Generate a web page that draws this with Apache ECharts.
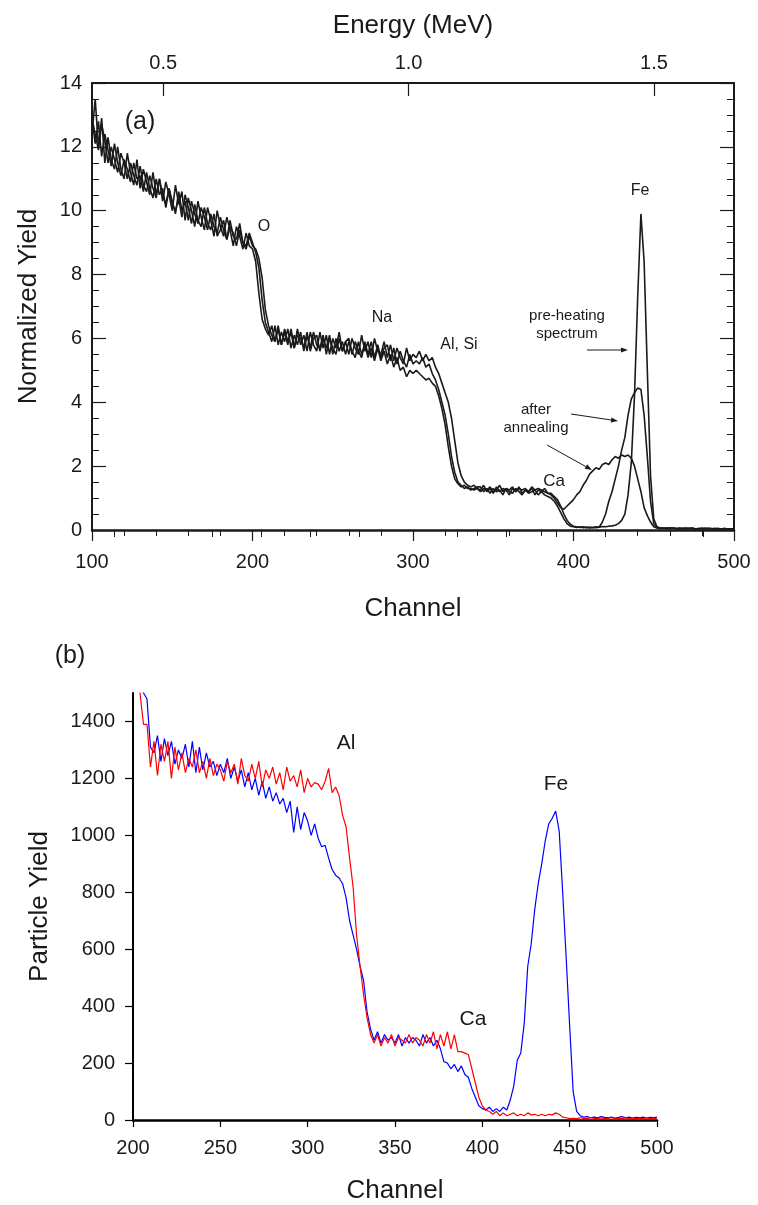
<!DOCTYPE html>
<html><head><meta charset="utf-8">
<script src="https://cdn.jsdelivr.net/npm/echarts@6/dist/echarts.min.js"></script>
<style>html,body{margin:0;padding:0;background:#fff}#c{width:758px;height:1205px}</style>
</head><body><div id="c"></div>
<script>
// ---------- Panel (a): normalized yield vs channel (channels 100..500, step 2) ----------
const TOP_CH_START = 100, TOP_CH_STEP = 2;
const preheat = [
 12.4,13.5,12.0,12.9,11.5,12.3,11.6,11.3,12.0,11.3,
 11.0,11.8,11.2,10.8,11.6,10.7,11.3,10.9,10.5,11.2,
 10.5,11.0,10.3,10.9,10.5,10.0,10.8,10.2,10.6,9.7,
 10.4,10.0,9.5,10.3,9.8,9.4,10.1,9.7,9.2,10.0,
 9.5,9.2,9.8,9.4,8.9,9.5,9.2,8.8,9.3,8.9,
 8.8,8.4,7.4,6.6,6.3,6.1,6.4,5.9,6.3,5.8,
 6.3,5.9,6.2,5.7,6.3,5.8,6.1,5.6,6.2,5.8,
 5.6,6.2,5.7,6.1,5.5,6.0,5.7,6.2,5.6,5.9,
 5.5,6.0,5.7,5.5,6.1,5.6,5.9,5.4,6.0,5.6,
 5.5,5.9,5.4,5.8,5.3,5.7,5.4,5.2,5.7,5.3,
 5.5,5.4,5.6,5.3,5.5,5.3,5.4,5.1,4.9,4.6,
 4.3,4.0,3.5,2.8,2.1,1.7,1.5,1.4,1.35,1.4,
 1.3,1.25,1.4,1.2,1.3,1.15,1.35,1.2,1.3,1.25,
 1.1,1.3,1.2,1.35,1.15,1.25,1.2,1.3,1.1,1.25,
 1.2,1.3,1.15,1.15,1.05,0.95,0.75,0.5,0.3,0.18,
 0.12,0.1,0.08,0.1,0.07,0.09,0.08,0.1,0.09,0.11,
 0.1,0.12,0.13,0.15,0.2,0.3,0.5,1.1,2.1,4.2,
 7.3,9.9,8.4,5.0,1.7,0.35,0.1,0.06,0.06,0.05,
 0.07,0.05,0.04,0.06,0.05,0.04,0.06,0.05,0.03,0.05,
 0.04,0.06,0.03,0.04,0.05,0.03,0.04,0.02,0.04,0.03,
 0.03
];
const anneal1 = [
 12.9,12.4,11.9,12.7,12.2,11.5,12.0,11.6,11.2,11.8,
 11.5,11.0,11.5,11.1,10.8,11.4,10.8,10.6,11.1,10.7,
 10.4,11.0,10.5,10.2,10.7,10.3,9.9,10.6,10.0,10.3,
 9.7,10.3,9.9,9.6,10.1,9.8,9.4,9.9,9.5,9.3,
 9.8,9.4,9.1,9.7,9.2,9.1,9.6,9.0,8.9,9.3,
 9.0,8.7,8.2,7.2,6.5,6.2,5.9,6.4,5.8,6.2,
 5.9,6.3,5.7,6.1,5.8,6.2,5.6,6.1,5.7,6.2,
 5.8,5.7,6.1,5.5,6.0,5.7,5.5,6.0,5.6,5.9,
 6.0,5.5,5.9,5.6,5.4,5.9,5.5,5.9,5.4,5.8,
 5.4,5.7,5.8,5.3,5.7,5.2,5.6,5.3,5.1,5.5,
 5.2,5.3,5.2,5.4,5.1,5.2,4.9,4.7,4.4,4.0,
 3.6,3.0,2.3,1.8,1.5,1.4,1.3,1.35,1.25,1.3,
 1.35,1.35,1.2,1.3,1.15,1.3,1.2,1.25,1.1,1.3,
 1.2,1.15,1.3,1.2,1.1,1.25,1.15,1.2,1.25,1.1,
 1.2,1.1,1.05,1.0,0.9,0.75,0.55,0.35,0.2,0.12,
 0.1,0.08,0.1,0.07,0.09,0.06,0.08,0.07,0.09,0.25,
 0.5,0.9,1.2,1.6,2.0,2.5,2.9,3.6,4.1,4.3,
 4.45,4.4,3.6,2.3,0.9,0.2,0.08,0.05,0.05,0.06,
 0.04,0.06,0.05,0.03,0.05,0.06,0.04,0.05,0.04,0.03,
 0.05,0.04,0.06,0.03,0.04,0.05,0.03,0.04,0.03,0.04,
 0.03
];
const anneal2 = [
 12.9,12.1,12.8,11.7,12.4,11.9,11.4,12.1,11.5,11.1,
 11.6,11.3,10.9,11.5,11.0,11.1,10.6,11.2,10.7,10.4,
 11.0,10.5,10.7,10.1,10.7,10.2,10.0,10.4,9.8,10.5,
 10.1,9.6,10.2,9.7,9.5,10.1,9.6,9.4,9.9,9.2,
 9.4,9.7,9.1,9.5,9.3,8.9,9.4,9.0,8.8,9.2,
 8.9,8.8,8.5,7.9,6.9,6.4,6.1,5.9,6.4,5.8,
 6.2,5.8,6.3,5.7,6.1,6.0,5.7,6.2,5.6,6.0,
 6.1,5.6,6.0,5.7,6.1,5.5,6.0,5.6,5.9,5.5,
 5.9,5.6,5.4,5.9,5.5,5.8,5.4,5.7,5.3,5.7,
 5.3,5.6,5.2,5.5,5.1,5.4,5.0,5.1,4.8,5.0,
 4.9,5.0,4.9,4.8,4.7,4.75,4.6,4.5,4.2,3.8,
 3.3,2.6,2.0,1.6,1.45,1.35,1.4,1.3,1.3,1.25,
 1.3,1.2,1.3,1.25,1.35,1.2,1.25,1.4,1.2,1.3,
 1.25,1.35,1.2,1.3,1.25,1.3,1.2,1.35,1.25,1.3,
 1.25,1.2,1.15,1.1,1.0,0.85,0.7,0.65,0.75,0.85,
 0.95,1.1,1.2,1.4,1.55,1.75,1.85,1.95,1.9,2.05,
 2.1,2.05,2.2,2.3,2.25,2.35,2.3,2.35,2.25,2.0,
 1.6,1.2,0.7,0.45,0.25,0.1,0.06,0.05,0.06,0.04,
 0.05,0.06,0.04,0.05,0.03,0.05,0.04,0.06,0.03,0.04,
 0.05,0.03,0.04,0.05,0.02,0.04,0.03,0.05,0.03,0.04,
 0.03
];
const energyMajorTicks = [0.5, 1.0, 1.5];
const energyMinorTicks = [0.4, 0.6, 0.7, 0.8, 0.9, 1.1, 1.2, 1.3, 1.4, 1.6];
const ENERGY_AT_CH100 = 0.355, ENERGY_AT_CH500 = 1.663;

// ---------- Panel (b): particle yield vs channel (channels 200..500, step 2) ----------
const BOT_CH_START = 200, BOT_CH_STEP = 2;
const redYield = [
 1750,1640,1500,1390,1390,1240,1330,1210,1320,1260,
 1330,1200,1310,1230,1290,1220,1270,1240,1300,1220,
 1260,1200,1270,1210,1250,1230,1190,1260,1220,1250,
 1180,1270,1210,1190,1250,1200,1260,1170,1230,1200,
 1240,1180,1220,1160,1240,1190,1210,1170,1230,1150,
 1200,1170,1185,1180,1160,1190,1235,1150,1170,1140,
 1070,1030,920,820,650,540,440,360,300,270,
 300,260,290,270,300,260,290,280,270,300,
 270,290,280,260,300,270,310,250,300,260,
 310,250,300,240,240,235,230,180,130,80,
 50,35,30,20,30,15,25,15,20,25,
 15,20,15,25,18,20,15,20,15,20,
 18,25,20,10,8,5,6,5,8,6,
 5,8,6,5,7,5,6,8,5,6,
 5,7,5,6,5,6,5,7,5,6,
 4
];
const blueYield = [
 1800,1700,1600,1500,1480,1310,1290,1350,1260,1340,
 1280,1330,1250,1300,1270,1320,1240,1330,1220,1310,
 1230,1290,1240,1260,1210,1250,1220,1270,1200,1240,
 1190,1230,1170,1220,1160,1200,1140,1190,1130,1170,
 1120,1150,1110,1130,1080,1120,1010,1100,1020,1080,
 1050,1000,1040,990,960,965,920,880,860,850,
 830,780,700,650,600,540,490,380,320,280,
 310,270,300,280,290,270,300,260,290,270,
 290,280,260,300,270,290,260,280,250,205,
 200,180,195,170,190,160,150,110,80,50,
 40,35,45,30,40,30,45,35,70,120,
 210,235,340,540,620,740,830,900,980,1040,
 1060,1085,1015,800,570,330,100,30,15,10,
 12,8,10,8,12,9,8,10,7,9,
 12,8,10,7,9,8,10,7,9,8,
 10
];
const particleTicks = [0, 200, 400, 600, 800, 1000, 1200, 1400];

function toPairs(start, step, arr) { return arr.map((v, i) => [start + i * step, v]); }

const FONT = "'Liberation Sans', Arial, Helvetica, sans-serif";
const INK = '#1a1a1a';

function txt(x, y, text, size) {
  return { type: 'text', x: x, y: y, silent: true,
    style: { text: text, fontSize: size, fontFamily: FONT, fill: INK,
      align: 'center', verticalAlign: 'middle', textAlign: 'center', textVerticalAlign: 'middle' } };
}
function arrow(x1, y1, x2, y2) {
  const a = Math.atan2(y2 - y1, x2 - x1), L = 7, W = 2.6;
  const bx = x2 - L * Math.cos(a), by = y2 - L * Math.sin(a);
  const nx = -Math.sin(a) * W, ny = Math.cos(a) * W;
  return [
    { type: 'line', silent: true, shape: { x1: x1, y1: y1, x2: bx, y2: by }, style: { stroke: INK, lineWidth: 1 } },
    { type: 'polygon', silent: true, shape: { points: [[x2, y2], [bx + nx, by + ny], [bx - nx, by - ny]] }, style: { fill: INK } }
  ];
}

const axisTxt = { fontSize: 20, color: INK, fontFamily: FONT };
const nameTxt = { fontSize: 26, color: INK, fontFamily: FONT };

const option = {
  animation: false,
  backgroundColor: '#fff',
  textStyle: { fontFamily: FONT },
  grid: [
    { left: 92, top: 83, width: 642, height: 447 },
    { left: 133, top: 693, width: 524, height: 428 },
    { left: 92, top: 83, width: 642, height: 447 }
  ],
  xAxis: [
    { gridIndex: 0, type: 'value', min: 100, max: 500, interval: 100, position: 'bottom',
      axisLine: { show: true, onZero: false, lineStyle: { color: INK, width: 2.5 } },
      axisTick: { show: true, length: 11, lineStyle: { color: INK, width: 1.2 } },
      minorTick: { show: true, splitNumber: 5, length: 6, lineStyle: { color: INK, width: 1 } },
      splitLine: { show: false }, minorSplitLine: { show: false },
      axisLabel: Object.assign({ margin: 22 }, axisTxt),
      name: 'Channel', nameLocation: 'middle', nameGap: 66, nameTextStyle: nameTxt },
    { gridIndex: 0, type: 'value', min: ENERGY_AT_CH100, max: ENERGY_AT_CH500, position: 'top',
      axisLine: { show: true, onZero: false, lineStyle: { color: INK, width: 2 } },
      axisTick: { show: true, inside: true, length: 13, customValues: energyMajorTicks, lineStyle: { color: INK, width: 1.2 } },
      axisLabel: Object.assign({ margin: 10, customValues: energyMajorTicks, formatter: v => Number(v).toFixed(1) }, axisTxt),
      splitLine: { show: false },
      name: 'Energy (MeV)', nameLocation: 'middle', nameGap: 44, nameTextStyle: nameTxt },
    { gridIndex: 2, type: 'value', min: ENERGY_AT_CH100, max: ENERGY_AT_CH500, position: 'top',
      axisLine: { show: false },
      axisTick: { show: true, inside: true, length: 7, customValues: energyMinorTicks, lineStyle: { color: INK, width: 1 } },
      axisLabel: { show: false }, splitLine: { show: false } },
    { gridIndex: 1, type: 'value', min: 200, max: 500, interval: 50, position: 'bottom',
      axisLine: { show: true, onZero: false, lineStyle: { color: '#000', width: 2.5 } },
      axisTick: { show: true, length: 7, lineStyle: { color: '#000', width: 1.2 } },
      splitLine: { show: false },
      axisLabel: Object.assign({ margin: 18 }, axisTxt),
      name: 'Channel', nameLocation: 'middle', nameGap: 58, nameTextStyle: nameTxt }
  ],
  yAxis: [
    { gridIndex: 0, type: 'value', min: 0, max: 14, interval: 2, position: 'left',
      axisLine: { show: true, onZero: false, lineStyle: { color: INK, width: 2 } },
      axisTick: { show: true, inside: true, length: 14, lineStyle: { color: INK, width: 1.2 } },
      minorTick: { show: true, splitNumber: 4, length: 7, lineStyle: { color: INK, width: 1 } },
      splitLine: { show: false }, minorSplitLine: { show: false },
      axisLabel: Object.assign({ margin: 10 }, axisTxt),
      name: 'Normalized Yield', nameLocation: 'middle', nameGap: 50, nameRotate: 90, nameTextStyle: nameTxt },
    { gridIndex: 0, type: 'value', min: 0, max: 14, interval: 2, position: 'right',
      axisLine: { show: true, onZero: false, lineStyle: { color: INK, width: 2 } },
      axisTick: { show: true, inside: true, length: 14, lineStyle: { color: INK, width: 1.2 } },
      minorTick: { show: true, splitNumber: 4, length: 7, lineStyle: { color: INK, width: 1 } },
      splitLine: { show: false }, minorSplitLine: { show: false },
      axisLabel: { show: false } },
    { gridIndex: 1, type: 'value', min: 0, max: 1500, position: 'left',
      axisLine: { show: true, onZero: false, lineStyle: { color: '#000', width: 2 } },
      axisTick: { show: true, length: 8, customValues: particleTicks, lineStyle: { color: '#000', width: 1.2 } },
      splitLine: { show: false },
      axisLabel: Object.assign({ margin: 18, customValues: particleTicks, formatter: v => String(v) }, axisTxt),
      name: 'Particle Yield', nameLocation: 'middle', nameGap: 80, nameRotate: 90, nameTextStyle: nameTxt },
    { gridIndex: 2, type: 'value', min: 0, max: 1, show: false }
  ],
  series: [
    { name: 'after annealing (broad)', type: 'line', xAxisIndex: 0, yAxisIndex: 0, showSymbol: false, clip: true,
      data: toPairs(TOP_CH_START, TOP_CH_STEP, anneal2), lineStyle: { color: INK, width: 1.6 } },
    { name: 'after annealing', type: 'line', xAxisIndex: 0, yAxisIndex: 0, showSymbol: false, clip: true,
      data: toPairs(TOP_CH_START, TOP_CH_STEP, anneal1), lineStyle: { color: INK, width: 1.6 } },
    { name: 'pre-heating spectrum', type: 'line', xAxisIndex: 0, yAxisIndex: 0, showSymbol: false, clip: true,
      data: toPairs(TOP_CH_START, TOP_CH_STEP, preheat), lineStyle: { color: INK, width: 1.6 } },
    { name: 'blue', type: 'line', xAxisIndex: 3, yAxisIndex: 2, showSymbol: false, clip: true,
      data: toPairs(BOT_CH_START, BOT_CH_STEP, blueYield), lineStyle: { color: '#0000ff', width: 1.2 } },
    { name: 'red', type: 'line', xAxisIndex: 3, yAxisIndex: 2, showSymbol: false, clip: true,
      data: toPairs(BOT_CH_START, BOT_CH_STEP, redYield), lineStyle: { color: '#ff0000', width: 1.2 } }
  ],
  graphic: [].concat(
    [
      txt(140, 122, '(a)', 25),
      txt(264, 227, 'O', 16),
      txt(382, 318, 'Na', 16),
      txt(459, 345, 'Al, Si', 16),
      txt(554, 481, 'Ca', 17),
      txt(640, 191, 'Fe', 16),
      txt(567, 316, 'pre-heating', 15),
      txt(567, 334, 'spectrum', 15),
      txt(536, 410, 'after', 15),
      txt(536, 428, 'annealing', 15),
      txt(70, 656, '(b)', 25),
      txt(346, 743, 'Al', 21),
      txt(556, 784, 'Fe', 21),
      txt(473, 1019, 'Ca', 21)
    ],
    arrow(587, 350, 628, 350),
    arrow(571, 414, 618, 421),
    arrow(547, 445, 592, 470)
  )
};

const chart = echarts.init(document.getElementById('c'), null, { renderer: 'canvas', width: 758, height: 1205 });
chart.setOption(option);
</script>
</body></html>
